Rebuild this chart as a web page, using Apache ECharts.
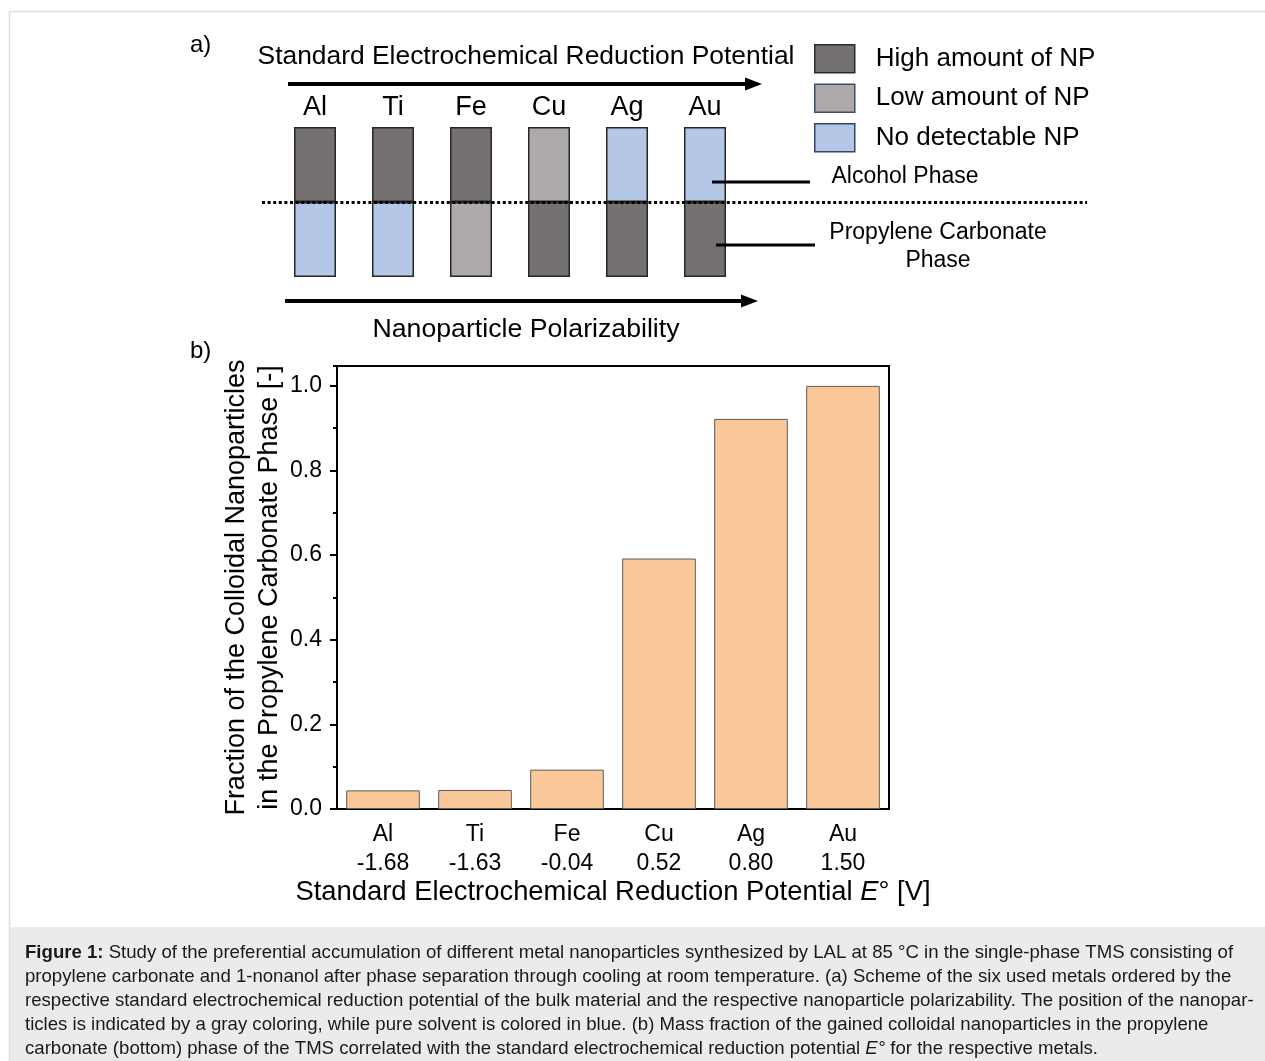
<!DOCTYPE html>
<html>
<head>
<meta charset="utf-8">
<script src="https://cdn.jsdelivr.net/npm/echarts@6/dist/echarts.min.js"></script>
<style>
html,body{margin:0;padding:0;background:#fff;}
#chart{width:1265px;height:1061px;}
</style>
</head>
<body>
<div id="chart"></div>
<script>
// ---- data ----
const metals = ['Al', 'Ti', 'Fe', 'Cu', 'Ag', 'Au'];
const potentials = ['-1.68', '-1.63', '-0.04', '0.52', '0.80', '1.50'];
const fractionPC = [0.044, 0.045, 0.093, 0.592, 0.922, 1.0];
const alcoholPhaseState = ['High', 'High', 'High', 'Low', 'None', 'None'];
const pcPhaseState = ['None', 'None', 'Low', 'High', 'High', 'High'];
const stateKeys = ['High', 'Low', 'None'];
const stateNames = ['High amount of NP', 'Low amount of NP', 'No detectable NP'];
const yTickValues = [0, 0.2, 0.4, 0.6, 0.8, 1.0];

// ---- styles ----
const FONT = 'Liberation Sans, Arial, sans-serif';
const stateColors = { High: '#767171', Low: '#aeaaaa', None: '#b4c7e7' };
const stateLegendBorder = { High: '#2b2b2b', Low: '#3a4f6e', None: '#2f4670' };

const chart = echarts.init(document.getElementById('chart'), null, { renderer: 'canvas' });

// scheme series: one series per (phase, state), stacked
const schemeSeries = [];
[pcPhaseState, alcoholPhaseState].forEach(function (phaseArr) {
  stateKeys.forEach(function (st, si) {
    schemeSeries.push({
      type: 'bar',
      name: stateNames[si],
      xAxisIndex: 2,
      yAxisIndex: 2,
      stack: 'scheme',
      barWidth: 42,
      silent: true,
      itemStyle: { color: stateColors[st], borderColor: '#262626', borderWidth: 1.5 },
      data: phaseArr.map(function (s) { return s === st ? 1 : '-'; })
    });
  });
});

const captionLines = [
  '{b|Figure 1:} Study of the preferential accumulation of different metal nanoparticles synthesized by LAL at 85 °C in the single-phase TMS consisting of',
  'propylene carbonate and 1-nonanol after phase separation through cooling at room temperature. (a) Scheme of the six used metals ordered by the',
  'respective standard electrochemical reduction potential of the bulk material and the respective nanoparticle polarizability. The position of the nanopar-',
  'ticles is indicated by a gray coloring, while pure solvent is colored in blue. (b) Mass fraction of the gained colloidal nanoparticles in the propylene',
  'carbonate (bottom) phase of the TMS correlated with the standard electrochemical reduction potential {i|E°} for the respective metals.'
];

const CAP = 18.6;

const option = {
  animation: false,
  backgroundColor: '#fff',
  textStyle: { fontFamily: FONT, color: '#000' },
  legend: {
    orient: 'vertical',
    left: 809,
    top: 39,
    itemWidth: 40,
    itemHeight: 28,
    itemGap: 10,
    selectedMode: false,
    icon: 'rect',
    textStyle: { fontSize: 26, color: '#000', fontFamily: FONT, padding: [0, 0, 0, 16] },
    data: stateKeys.map(function (st, si) {
      return { name: stateNames[si], icon: 'rect',
        itemStyle: { color: stateColors[st], borderColor: stateLegendBorder[st], borderWidth: 1.5 } };
    })
  },
  grid: [
    { left: 337, top: 366, width: 552, height: 443, show: true, borderColor: '#000', borderWidth: 2, backgroundColor: 'transparent' },
    { left: 276, top: 127, width: 468, height: 150, show: false }
  ],
  xAxis: [
    {
      gridIndex: 0, type: 'category', data: metals, position: 'bottom',
      axisLine: { lineStyle: { color: '#000', width: 2 } },
      axisTick: { alignWithLabel: true, length: 7, lineStyle: { color: '#000', width: 2 } },
      axisLabel: {
        color: '#000', fontSize: 23, lineHeight: 29, margin: 11, fontFamily: FONT,
        formatter: function (v, i) { return v + '\n' + potentials[i]; }
      },
      name: 'Standard Electrochemical Reduction Potential {i|E}° [V]',
      nameLocation: 'middle', nameGap: 65,
      nameTextStyle: { fontSize: 27.4, color: '#000', fontFamily: FONT,
        rich: { i: { fontSize: 27.4, fontStyle: 'italic', fontFamily: FONT, color: '#000' } } }
    },
    {
      gridIndex: 0, type: 'category', data: metals, position: 'bottom',
      axisLine: { show: false },
      axisTick: { alignWithLabel: false, length: 3, lineStyle: { color: '#000', width: 2 } },
      axisLabel: { show: false }
    },
    {
      gridIndex: 1, type: 'category', data: metals, position: 'top',
      axisLine: { show: false }, axisTick: { show: false },
      axisLabel: { color: '#000', fontSize: 27, margin: 6, fontFamily: FONT }
    }
  ],
  yAxis: [
    {
      gridIndex: 0, type: 'value', min: 0, max: 1.047, interval: 0.2, position: 'left',
      axisLine: { show: true, lineStyle: { color: '#000', width: 2 } },
      axisTick: { show: true, length: 7, lineStyle: { color: '#000', width: 2 } },
      splitLine: { show: false },
      axisLabel: {
        color: '#000', fontSize: 23, margin: 15, fontFamily: FONT, showMaxLabel: false,
        formatter: function (v) { return yTickValues.indexOf(Math.round(v * 10) / 10) >= 0 && Math.abs(v * 10 - Math.round(v * 10)) < 1e-6 ? v.toFixed(1) : ''; }
      },
      name: 'Fraction of the Colloidal Nanoparticles\nin the Propylene Carbonate Phase [-]',
      nameLocation: 'middle', nameRotate: 90, nameGap: 49,
      nameTextStyle: { fontSize: 27, lineHeight: 33, color: '#000', fontFamily: FONT, align: 'center' }
    },
    {
      gridIndex: 0, type: 'value', min: 0, max: 1.047, interval: 0.1, position: 'left',
      axisLine: { show: false },
      axisTick: { show: true, length: 4, lineStyle: { color: '#000', width: 2 } },
      splitLine: { show: false },
      axisLabel: { show: false }
    },
    { gridIndex: 1, type: 'value', min: 0, max: 2, show: false }
  ],
  graphic: [
    { type: 'rect', silent: true, z: -10, shape: { x: 9.5, y: 11.5, width: 1300, height: 1100 },
      style: { fill: 'none', stroke: '#dedede', lineWidth: 1.5 } },
    // labels a) b)
    { type: 'text', silent: true, x: 190, y: 45, style: { text: 'a)', font: '24px ' + FONT, fill: '#000', textVerticalAlign: 'middle' } },
    { type: 'text', silent: true, x: 190, y: 351, style: { text: 'b)', font: '24px ' + FONT, fill: '#000', textVerticalAlign: 'middle' } },
    // scheme titles
    { type: 'text', silent: true, x: 526, y: 57, style: { text: 'Standard Electrochemical Reduction Potential', font: '26.4px ' + FONT, fill: '#000', textAlign: 'center', textVerticalAlign: 'middle' } },
    { type: 'text', silent: true, x: 526, y: 330, style: { text: 'Nanoparticle Polarizability', font: '26.7px ' + FONT, fill: '#000', textAlign: 'center', textVerticalAlign: 'middle' } },
    // arrows
    { type: 'line', silent: true, shape: { x1: 288, y1: 84, x2: 748, y2: 84 }, style: { stroke: '#000', lineWidth: 4 } },
    { type: 'polygon', silent: true, shape: { points: [[745, 77.5], [762, 84], [745, 90.5]] }, style: { fill: '#000' } },
    { type: 'line', silent: true, shape: { x1: 285, y1: 301, x2: 744, y2: 301 }, style: { stroke: '#000', lineWidth: 4 } },
    { type: 'polygon', silent: true, shape: { points: [[741, 294.5], [758, 301], [741, 307.5]] }, style: { fill: '#000' } },
    // dotted phase boundary
    { type: 'line', silent: true, z: 100, shape: { x1: 262, y1: 202.5, x2: 1087, y2: 202.5 }, style: { stroke: '#000', lineWidth: 3, lineDash: [3, 2.6] } },
    // callouts
    { type: 'line', silent: true, z: 100, shape: { x1: 712, y1: 182, x2: 810, y2: 182 }, style: { stroke: '#000', lineWidth: 3 } },
    { type: 'line', silent: true, z: 100, shape: { x1: 716, y1: 245, x2: 815, y2: 245 }, style: { stroke: '#000', lineWidth: 3 } },
    { type: 'text', silent: true, x: 905, y: 177, style: { text: 'Alcohol Phase', font: '23px ' + FONT, fill: '#000', textAlign: 'center', textVerticalAlign: 'middle' } },
    { type: 'text', silent: true, x: 938, y: 233, style: { text: 'Propylene Carbonate', font: '23px ' + FONT, fill: '#000', textAlign: 'center', textVerticalAlign: 'middle' } },
    { type: 'text', silent: true, x: 938, y: 261, style: { text: 'Phase', font: '23px ' + FONT, fill: '#000', textAlign: 'center', textVerticalAlign: 'middle' } },
    // caption box
    { type: 'rect', silent: true, z: -5, shape: { x: 10, y: 927, width: 1255, height: 134 }, style: { fill: '#ebebeb' } },
    { type: 'text', silent: true, x: 25, y: 941, style: {
        text: captionLines.join('\n'), font: CAP + 'px ' + FONT, fill: '#1a1a1a', lineHeight: 24, textVerticalAlign: 'top',
        rich: {
          b: { fontWeight: 'bold', fontSize: CAP, fontFamily: FONT, fill: '#1a1a1a', lineHeight: 24 },
          i: { fontStyle: 'italic', fontSize: CAP, fontFamily: FONT, fill: '#1a1a1a', lineHeight: 24 }
        } } }
  ],
  series: [
    {
      type: 'bar', name: 'Fraction in PC phase', xAxisIndex: 0, yAxisIndex: 0,
      barWidth: '80%', silent: true,
      itemStyle: { color: '#fac898', borderColor: '#5a5a5a', borderWidth: 1 },
      data: fractionPC
    }
  ].concat(schemeSeries)
};

chart.setOption(option);
</script>
</body>
</html>
